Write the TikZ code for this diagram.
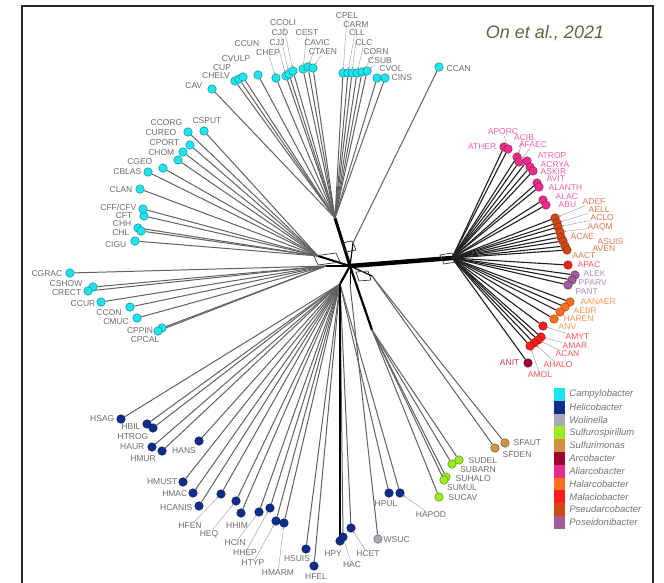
\documentclass[tikz,border=0pt]{standalone}
\usepackage{fontspec}
\setmainfont{Liberation Sans}
\usetikzlibrary{positioning,arrows.meta}

\definecolor{campy}{RGB}{30,228,238}
\definecolor{helico}{RGB}{14,44,140}
\definecolor{wolin}{RGB}{168,168,182}
\definecolor{sulfsp}{RGB}{156,236,34}
\definecolor{sulfm}{RGB}{208,148,64}
\definecolor{arco}{RGB}{160,0,46}
\definecolor{aliarco}{RGB}{236,44,140}
\definecolor{halarco}{RGB}{255,112,30}
\definecolor{malacio}{RGB}{250,30,30}
\definecolor{pseudo}{RGB}{210,72,22}
\definecolor{poseid}{RGB}{162,92,156}
\definecolor{titlegreen}{RGB}{82,108,62}

\pgfdeclarelayer{edges}
\pgfsetlayers{edges,main}

\begin{document}
\begin{tikzpicture}[x=1pt, y=-1pt,
    leaf/.style={circle, draw=#1!60!black, fill=#1, line width=0.5pt, inner sep=0pt, minimum size=8.5pt},
    lab/.style={font=\fontsize{8.5}{9}\selectfont, inner sep=0.5pt, text=black!58},
    branch/.style={draw=black!62, line width=1pt},
    arcbranch/.style={draw=black!88, line width=1.1pt},
    trunk/.style={draw=black, line width=#1},
    leader/.style={draw=black!40, line width=0.4pt, -{Circle[length=1.6pt]}},
    netbox/.style={draw=black!80, line width=0.7pt},
    swatch/.style={rectangle, inner sep=0pt, minimum width=11pt, minimum height=12.8pt},
    legtext/.style={font=\fontsize{9.5}{10}\selectfont\itshape, text=black!55, inner sep=0pt}]

  \useasboundingbox (0,0) rectangle (664,583);

  % cadre (ouvert en bas)
  \draw[line width=2pt, black!85] (22,583) -- (22,6) -- (653,6) -- (653,583);

  \node[font=\fontsize{18}{20}\selectfont\itshape, text=titlegreen] (title) at (545,33) {On et al., 2021};

  % points de jonction du réseau
  \coordinate (c0) at (350,266);
  \coordinate (tc) at (335,218);
  \coordinate (cc) at (353,243);
  \coordinate (lc) at (318,256);
  \coordinate (ll) at (326,266);
  \coordinate (ah) at (452,258);
  \coordinate (hh) at (340,284);
  \coordinate (wh) at (350,284);
  \coordinate (sm) at (372,276);
  \coordinate (sp) at (372,330);

  % troncs épais
  \begin{pgfonlayer}{edges}
    \draw[trunk=4.5pt] (c0) -- (ah);
    \draw[trunk=3pt] (c0) -- (tc);
    \draw[trunk=2.2pt] (c0) -- (sp);
    \draw[trunk=2.2pt] (c0) -- (hh);
    \draw[trunk=2pt] (c0) -- (lc);
    \draw[trunk=1.6pt] (c0) -- (ll);
    \draw[trunk=1.2pt] (c0) -- (cc);
    \draw[trunk=1.2pt] (c0) -- (sm);
    \draw[trunk=1pt] (c0) -- (wh);
    % petites boîtes de réticulation
    \draw[netbox] (342,243) -- (352,241) -- (356,250) -- (346,252) -- cycle;
    \draw[netbox] (314,256) -- (336,253) -- (340,262) -- (318,265) -- cycle;
    \draw[netbox] (356,272) -- (368,271) -- (371,280) -- (359,281) -- cycle;
    \draw[netbox] (440,255) -- (452,253) -- (456,262) -- (444,264) -- cycle;
  \end{pgfonlayer}

  % Campylobacter (haut)
  \foreach \n/\x/\y/\a/\lx/\ly in {
      CAV/212/89/east/203/86, CHELV/235/81/center/216/76, CUP/239/79/center/222/68,
      CVULP/243/77/center/236/59, CCUN/258/75/center/247/44, CHEP/276/78/center/268/53,
      CJJ/286/76/center/277/43, CJD/289/74/center/280/33, CCOLI/293/71/center/283/23,
      CEST/303/69/center/307/33, CAVIC/308/67/center/317/43, CTAEN/313/68/center/323/52,
      CPEL/343/73/center/347/16, CARM/348/73/center/356/25, CLL/352/73/center/357/33,
      CLC/357/73/center/364/43, CORN/362/72/center/376/52, CSUB/367/71/center/380/61,
      CVOL/377/78/center/391/69, CINS/385/78/west/391/78} {
    \node[leaf=campy] (\n) at (\x,\y) {};
    \node[lab, anchor=\a] (\n-l) at (\lx,\ly) {\n};
    \begin{pgfonlayer}{edges}\draw[branch] (tc) -- (\n);\end{pgfonlayer}
  }
  \node[leaf=campy] (CCAN) at (439,67) {};
  \node[lab, anchor=west] (CCAN-l) at (446,69) {CCAN};
  \begin{pgfonlayer}{edges}\draw[branch] (cc) -- (CCAN);\end{pgfonlayer}

  % Campylobacter (gauche)
  \foreach \n/\x/\y/\a/\lx/\ly in {
      CSPUT/204/131/center/207/121, CCORG/188/132/east/183/123, CUREO/190/145/east/177/133,
      CPORT/183/152/east/180/143, CHOM/178/160/east/175/153, CGEO/163/168/east/153/162,
      CBLAS/148/172/east/142/172, CLAN/140/189/east/133/190, CFT/144/216/east/133/216,
      CHH/138/228/east/132/224, CHL/141/231/east/130/233, CIGU/135/241/east/127/245} {
    \node[leaf=campy] (\n) at (\x,\y) {};
    \node[lab, anchor=\a] (\n-l) at (\lx,\ly) {\n};
    \begin{pgfonlayer}{edges}\draw[branch] (lc) -- (\n);\end{pgfonlayer}
  }
  \node[leaf=campy] (CFF) at (143,209) {};
  \node[lab, anchor=east] (CFF-l) at (137,207) {CFF/CFV};
  \begin{pgfonlayer}{edges}\draw[branch] (lc) -- (CFF);\end{pgfonlayer}

  % Campylobacter (bas gauche)
  \foreach \n/\x/\y/\a/\lx/\ly in {
      CGRAC/70/273/east/63/274, CSHOW/93/287/east/83/284, CRECT/88/291/east/82/293,
      CCUR/101/302/east/96/304, CCON/130/307/center/109/313, CMUC/137/318/center/116/322,
      CPPIN/162/328/center/140/331, CPCAL/158/331/center/145/340} {
    \node[leaf=campy] (\n) at (\x,\y) {};
    \node[lab, anchor=\a] (\n-l) at (\lx,\ly) {\n};
    \begin{pgfonlayer}{edges}\draw[branch] (ll) -- (\n);\end{pgfonlayer}
  }

  % Arcobacter s.l.
  \foreach \n/\x/\y/\a/\lx/\ly/\c in {
      ATHER/504/147/east/497/147/aliarco, APORC/508/149/center/503/132/aliarco,
      ACIB/517/157/center/524/138/aliarco, AFAEC/519/162/center/533/145/aliarco,
      ATROP/527/161/west/537/156/aliarco, ACRYA/530/167/west/540/165/aliarco,
      ASKIR/533/171/west/540/172/aliarco, AVIT/537/183/west/546/179/aliarco,
      ALANTH/539/187/west/548/188/aliarco, ALAC/543/200/west/555/197/aliarco,
      ABU/546/205/west/558/205/aliarco,
      ADEF/555/218/west/582/202/pseudo, AELL/557/223/west/588/210/pseudo,
      ACLO/558/227/west/590/218/pseudo, AAQM/560/232/west/587/227/pseudo,
      ACAE/561/237/west/570/237/pseudo, ASUIS/563/241/west/597/242/pseudo,
      AVEN/565/246/west/592/249/pseudo, AACT/567/250/west/572/256/pseudo,
      APAC/568/265/west/577/265/malacio,
      ALEK/575/275/west/583/274/poseid, PPARV/572/280/west/578/283/poseid,
      PANT/568/285/west/575/292/poseid,
      AANAER/570/302/west/580/302/halarco, AEBR/565/307/west/573/311/halarco,
      HAREN/560/312/west/563/319/halarco, ANV/554/319/west/558/327/halarco,
      AMYT/543/326/west/565/337/malacio, AMAR/541/337/west/562/346/malacio,
      ACAN/538/340/west/555/354/malacio, AHALO/534/343/west/543/365/malacio,
      AMOL/530/346/center/540/375/malacio,
      ANIT/528/363/east/520/363/arco} {
    \node[leaf=\c] (\n) at (\x,\y) {};
    \node[lab, anchor=\a, text=\c!75!white] (\n-l) at (\lx,\ly) {\n};
    \begin{pgfonlayer}{edges}\draw[arcbranch] (ah) -- (\n);\end{pgfonlayer}
  }

  % Helicobacter
  \foreach \n/\x/\y/\a/\lx/\ly in {
      HSAG/121/419/east/115/419, HBIL/147/424/center/131/427, HTROG/153/428/center/133/437,
      HAUR/152/447/east/145/447, HMUR/162/451/center/143/459, HANS/199/441/center/184/451,
      HMUST/183/482/east/178/482, HMAC/193/493/east/188/494, HCANIS/199/506/east/193/508,
      HFEN/221/494/center/190/526, HEQ/236/501/center/209/534, HHIM/241/513/center/237/526,
      HCIN/259/512/center/235/543, HHEP/270/508/center/245/553, HTYP/276/521/center/253/563,
      HMARM/284/523/center/278/573, HSUIS/306/549/center/297/559, HFEL/314/566/center/316/577,
      HPY/340/541/center/333/554, HAC/343/537/center/352/565, HCET/351/528/center/368/554,
      HPUL/389/493/center/386/504, HAPOD/400/493/center/431/515} {
    \node[leaf=helico] (\n) at (\x,\y) {};
    \node[lab, anchor=\a] (\n-l) at (\lx,\ly) {\n};
    \begin{pgfonlayer}{edges}\draw[branch] (hh) -- (\n);\end{pgfonlayer}
  }
  \begin{pgfonlayer}{edges}\draw[trunk=1.5pt] (hh) -- (HPY);\end{pgfonlayer}

  % Wolinella
  \node[leaf=wolin] (WSUC) at (378,539) {};
  \node[lab, anchor=west] (WSUC-l) at (383,540) {WSUC};
  \begin{pgfonlayer}{edges}\draw[branch] (wh) -- (WSUC);\end{pgfonlayer}

  % Sulfurimonas
  \foreach \n/\x/\y/\a/\lx/\ly in {SFAUT/505/443/west/513/443, SFDEN/495/448/center/517/455} {
    \node[leaf=sulfm] (\n) at (\x,\y) {};
    \node[lab, anchor=\a] (\n-l) at (\lx,\ly) {\n};
    \begin{pgfonlayer}{edges}\draw[branch] (sm) -- (\n);\end{pgfonlayer}
  }

  % Sulfurospirillum
  \foreach \n/\x/\y/\a/\lx/\ly in {
      SUDEL/459/460/west/468/461, SUBARN/452/464/center/478/470, SUHALO/446/477/west/455/479,
      SUMUL/444/480/center/462/488, SUCAV/439/497/west/448/498} {
    \node[leaf=sulfsp] (\n) at (\x,\y) {};
    \node[lab, anchor=\a] (\n-l) at (\lx,\ly) {\n};
    \begin{pgfonlayer}{edges}\draw[branch] (sp) -- (\n);\end{pgfonlayer}
  }

  % traits de rappel étiquette -> point
  \foreach \n in {CHEP, CJJ, CJD, CCOLI, CEST, CAVIC, CTAEN, CPEL, CARM, CLL, CLC, CORN, CSUB,
      APORC, ACIB, AFAEC, ADEF, AELL, ACLO, AAQM, AMYT, AMAR, ACAN, AHALO, AMOL,
      HFEN, HEQ, HCIN, HHEP, HTYP, HMARM, HAC, HCET, HAPOD}
    \draw[leader] (\n-l) -- (\n);

  % légende
  \foreach \c/\t [count=\i] in {campy/Campylobacter, helico/Helicobacter, wolin/Wolinella,
      sulfsp/Sulfurospirillum, sulfm/Sulfurimonas, arco/Arcobacter, aliarco/Aliarcobacter,
      halarco/Halarcobacter, malacio/Malaciobacter, pseudo/Pseudarcobacter, poseid/Poseidonibacter} {
    \node[swatch, fill=\c] (sw\i) at (559.5,{381.6+12.8*\i}) {};
    \node[legtext, right=4pt of sw\i] {\t};
  }
\end{tikzpicture}
\end{document}
